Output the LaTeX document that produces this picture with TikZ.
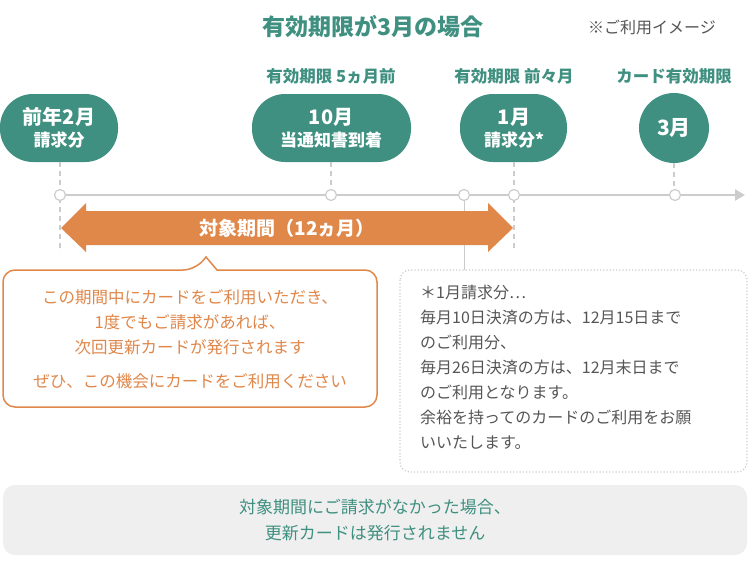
\documentclass[tikz,border=0pt]{standalone}
\usepackage{fontspec}
\setmainfont{Noto Sans CJK JP}
\usetikzlibrary{arrows.meta}
\definecolor{grn}{HTML}{3F9080}
\definecolor{org}{HTML}{E0874A}
\definecolor{axg}{HTML}{CCCCCC}
\definecolor{txg}{HTML}{555555}
\definecolor{boxg}{HTML}{EFEFEF}
\begin{document}
\begin{tikzpicture}[x=1pt,y=-1pt,
  pill/.style={fill=grn,text=white,font=\bfseries,align=center,inner sep=0pt},
  toplab/.style={text=grn,font=\bfseries\fontsize{16.5}{18}\selectfont},
  dot/.style={circle,draw=axg,fill=white,line width=1.2pt,minimum size=11pt,inner sep=0pt},
  vdash/.style={draw=axg,line width=1.5pt,dash pattern=on 5pt off 4pt}]
\useasboundingbox (0,0) rectangle (750,570);
\node[text=grn,font=\bfseries\fontsize{23}{26}\selectfont] (title) at (373,27) {有効期限が3月の場合};
\node[text=txg,font=\fontsize{16}{18}\selectfont] (note) at (652,27) {※ご利用イメージ};
\node[toplab] (l2) at (331,76) {有効期限 5ヵ月前};
\node[toplab] (l3) at (514,76) {有効期限 前々月};
\node[toplab] (l4) at (674,76) {カード有効期限};
% pills
\fill[grn,rounded corners=33pt] (0,94) rectangle (118,162);
\fill[grn,rounded corners=33pt] (252,94) rectangle (411,162);
\fill[grn,rounded corners=33pt] (460,94) rectangle (567,162);
\fill[grn] (674,128) circle (35);
\node[pill,font=\bfseries\fontsize{20}{25}\selectfont] (p1) at (59,128) {前年2月\\[-3pt]{\fontsize{17}{20}\selectfont 請求分}};
\node[pill,font=\bfseries\fontsize{20}{25}\selectfont] (p2) at (331,128) {10月\\[-3pt]{\fontsize{17}{20}\selectfont 当通知書到着}};
\node[pill,font=\bfseries\fontsize{20}{25}\selectfont] (p3) at (514,128) {1月\\[-3pt]{\fontsize{17}{20}\selectfont 請求分*}};
\node[pill,font=\bfseries\fontsize{21}{24}\selectfont] (p4) at (674,128) {3月};
% axis
\coordinate (a0) at (60,195);
\coordinate (aend) at (745,195);
\draw[vdash] (60,162) -- (60,252);
\draw[vdash] (331,162) -- (331,195);
\draw[vdash] (514,162) -- (514,252);
\draw[vdash] (674,163) -- (674,195);
\draw[axg,line width=2.5pt,-{Triangle[length=10pt,width=11pt]}] (a0) -- (aend);
\draw[axg,line width=1pt] (464,195) -- (464,270);
\node[dot] (d1) at (60,195) {};
\node[dot] (d2) at (331,195) {};
\node[dot] (d3) at (464,195) {};
\node[dot] (d4) at (514,195) {};
\node[dot] (d5) at (675,195) {};
% orange arrow
\fill[org] (61,228) -- (86,203) -- (86,211) -- (488,211) -- (488,203) -- (513,228) -- (488,252) -- (488,245) -- (86,245) -- (86,252) -- cycle;
\node[text=white,font=\bfseries\fontsize{19}{22}\selectfont] (period) at (287,228) {対象期間（12ヵ月）};
% callout
\draw[org,line width=1.5pt,fill=white,rounded corners=12pt] (3,270) -- (195,270) [sharp corners] -- (206,257) -- (217,270) [rounded corners=12pt] -- (377,270) -- (377,407) -- (3,407) -- cycle;
\node[text=org,align=center,font=\fontsize{16.5}{25}\selectfont] (c1) at (190,322) {この期間中にカードをご利用いただき、\\1度でもご請求があれば、\\次回更新カードが発行されます};
\node[text=org,font=\fontsize{16.5}{18}\selectfont] (c2) at (190,381) {ぜひ、この機会にカードをご利用ください};
% dotted box
\draw[axg,line width=1.2pt,dotted,rounded corners=10pt] (400,270) rectangle (747,472);
\node[text=txg,align=left,anchor=north west,font=\fontsize{16}{25}\selectfont,inner sep=0pt] (n1) at (420,285) {＊1月請求分…\\毎月10日決済の方は、12月15日まで\\のご利用分、\\毎月26日決済の方は、12月末日まで\\のご利用となります。\\余裕を持ってのカードのご利用をお願\\いいたします。};
% bottom box
\fill[boxg,rounded corners=12pt] (3,485) rectangle (747,555);
\node[text=grn,align=center,font=\fontsize{17}{26}\selectfont] (b1) at (375,520) {対象期間にご請求がなかった場合、\\更新カードは発行されません};
\end{tikzpicture}
\end{document}
